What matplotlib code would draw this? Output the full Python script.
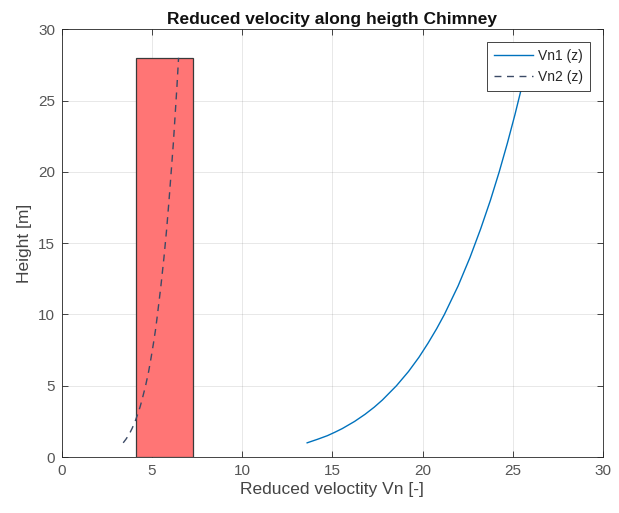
import matplotlib
matplotlib.use("Agg")
import matplotlib.pyplot as plt
from matplotlib.patches import Rectangle

plt.rcParams['font.family'] = ['Liberation Sans', 'DejaVu Sans']

# Data
height = [1, 1.25, 1.5, 1.75, 2, 2.5, 3, 3.5, 4, 5, 6, 7, 8, 9, 10, 12, 14, 16, 18, 20, 22, 24, 26, 28]
vn1 = [13.60, 14.18, 14.72, 15.15, 15.55, 16.23, 16.81, 17.32, 17.77, 18.55, 19.22, 19.80,
       20.31, 20.78, 21.21, 21.97, 22.63, 23.22, 23.76, 24.25, 24.70, 25.12, 25.51, 25.86]
vn2 = [3.40, 3.55, 3.68, 3.79, 3.89, 4.06, 4.20, 4.33, 4.44, 4.64, 4.81, 4.95,
       5.08, 5.20, 5.30, 5.49, 5.66, 5.81, 5.94, 6.06, 6.18, 6.28, 6.38, 6.47]
# lock-in band (rectangle)
band_x0 = 4.1
band_x1 = 7.25
band_height = 28.0

fig = plt.figure(figsize=(6.19, 5.13), dpi=100)
ax = fig.add_axes([0.100, 0.109, 0.874, 0.834])

ax.add_patch(Rectangle((band_x0, 0), band_x1 - band_x0, band_height,
                       facecolor='#ff7575', edgecolor='#3a3a3a', linewidth=0.9, zorder=2))
ax.plot(vn1, height, color='#0072BD', linewidth=1.0, label='Vn1 (z)', zorder=3)
ax.plot(vn2, height, color='#3b4a66', linewidth=1.0, linestyle=(0, (5, 4)), label='Vn2 (z)', zorder=3)

ax.set_xlim(0, 30)
ax.set_ylim(0, 30)
ax.set_xticks([0, 5, 10, 15, 20, 25, 30])
ax.set_yticks([0, 5, 10, 15, 20, 25, 30])
ax.grid(True, color='#262626', alpha=0.12, linewidth=0.6, zorder=0)
ax.set_axisbelow(True)
ax.tick_params(direction='in', top=True, right=True, length=4, width=0.6,
               colors='#262626', labelsize=11, labelcolor='#555555', pad=5)
for s in ax.spines.values():
    s.set_color('#262626')
    s.set_linewidth(0.6)

ax.set_title('Reduced velocity along heigth Chimney', fontsize=12.5, fontweight='bold',
             color='#111111', pad=4)
ax.set_xlabel('Reduced veloctity Vn [-]', fontsize=12.5, color='#444444', labelpad=3)
ax.set_ylabel('Height [m]', fontsize=12.5, color='#444444', labelpad=4)

leg = ax.legend(loc='upper right', fontsize=10, frameon=True, fancybox=False,
                edgecolor='#262626', framealpha=1.0, borderpad=0.5, handlelength=2.8,
                labelspacing=0.55, borderaxespad=0.9, handletextpad=0.4)
leg.get_frame().set_linewidth(0.6)
for t in leg.get_texts():
    t.set_color('#262626')

fig.savefig('out.png', dpi=100)
